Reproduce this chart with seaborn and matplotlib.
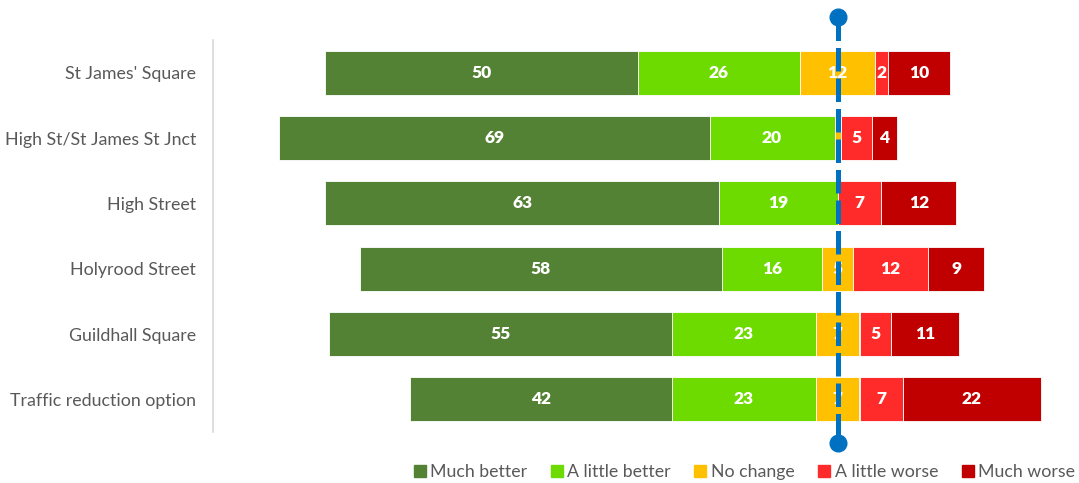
import matplotlib
matplotlib.use("Agg")
import matplotlib.pyplot as plt
import seaborn as sns
import numpy as np
from matplotlib.lines import Line2D

categories = ["St James' Square", "High St/St James St Jnct", "High Street",
              "Holyrood Street", "Guildhall Square", "Traffic reduction option"]
much_better = [50, 69, 63, 58, 55, 42]
little_better = [26, 20, 19, 16, 23, 23]
no_change = [12, 1, 0, 5, 7, 7]
little_worse = [2, 5, 7, 12, 5, 7]
much_worse = [10, 4, 12, 9, 11, 22]
series_names = ["Much better", "A little better", "No change", "A little worse", "Much worse"]
colors = ["#548235", "#6EDB00", "#FFC000", "#FF2B2B", "#C00000"]

sns.set_theme(style="white")
plt.rcParams["font.family"] = ["Lato", "DejaVu Sans"]

fig = plt.figure(figsize=(10.79, 4.83), dpi=100)
ax = fig.add_axes([213 / 1079, 1 - 432 / 483, (1075 - 213) / 1079, (432 - 40) / 483])

mb = np.array(much_better, float)
lb = np.array(little_better, float)
nc = np.array(no_change, float)
lw = np.array(little_worse, float)
mw = np.array(much_worse, float)

starts = [-(mb + lb + nc / 2), -(lb + nc / 2), -nc / 2, nc / 2, nc / 2 + lw]
vals = [mb, lb, nc, lw, mw]

for name, v, s, c in zip(series_names, vals, starts, colors):
    sns.barplot(x=v, y=categories, left=s, color=c, orient="h", errorbar=None,
                width=0.67, ax=ax, edgecolor="white", linewidth=0.6, saturation=1)
    labels = [f"{int(x)}" if x >= 2 else "" for x in v]
    ax.bar_label(ax.containers[-1], labels=labels, label_type="center",
                 color="white", fontsize=12.5, fontweight="heavy")

ax.set_xlim(-100, 38)
ax.set_ylim(5.5, -0.5)
ax.set_xticks([])
ax.set_xlabel("")
ax.set_ylabel("")
ax.tick_params(axis="y", length=0, pad=12, labelsize=12.8, labelcolor="#595959")
for side in ["top", "right", "bottom"]:
    ax.spines[side].set_visible(False)
ax.spines["left"].set_color("#D9D9D9")
ax.spines["left"].set_linewidth(1.2)

# dashed reference line with round ends
y0, y1 = -0.5 - 22.5 / 65.33, 5.5 + 11 / 65.33
ax.plot([0, 0], [y0, y1], color="#0070C0", lw=3.6, dashes=(4.7, 1.4),
        clip_on=False, zorder=10)
ax.plot([0, 0], [y0, y1], "o", color="#0070C0", ms=12, clip_on=False, zorder=11)

handles = [Line2D([0], [0], marker="s", linestyle="none", markersize=9,
                  markerfacecolor=c, markeredgecolor=c) for c in colors]
fig.legend(handles, series_names, loc="center", ncol=5, frameon=False,
           bbox_to_anchor=(743 / 1079, 1 - 472 / 483), fontsize=12.8,
           labelcolor="#595959", handletextpad=0.1, columnspacing=1.15,
           handlelength=1.0)

fig.savefig("out.png", dpi=100)
